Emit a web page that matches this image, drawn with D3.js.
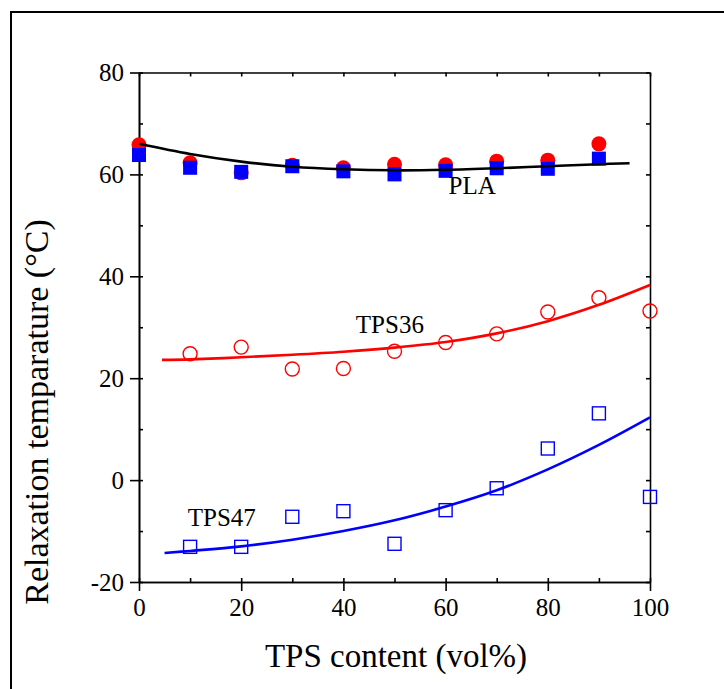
<!DOCTYPE html>
<html>
<head>
<meta charset="utf-8">
<title>relaxation temperature</title>
<script src="https://cdn.jsdelivr.net/npm/d3@7"></script>
<style>
  body { margin: 0; background: #fff; }
  text { font-family: "Liberation Serif", "Times New Roman", serif; fill: #000; }
</style>
</head>
<body>
<svg width="724" height="689" id="mainsvg"></svg>
<script>
// data
const plaX = [0, 10, 20, 30, 40, 50, 60, 70, 80, 90];
const plaCircle = [65.8, 62.3, 60.3, 61.8, 61.3, 62.0, 61.9, 62.6, 62.8, 66.0];
const plaSquare = [63.8, 61.3, 60.5, 61.6, 60.6, 60.0, 60.7, 61.2, 61.1, 63.1];
const plaFitX = [0, 10, 20, 30, 40, 50, 60, 70, 80, 90, 96];
const plaFitY = [66.0, 64.0, 62.5, 61.5, 61.0, 60.8, 60.9, 61.2, 61.6, 62.0, 62.2];

const tpsX = [10, 20, 30, 40, 50, 60, 70, 80, 90, 100];
const tps36 = [24.8, 26.1, 21.8, 21.9, 25.3, 27.0, 28.7, 33.0, 35.8, 33.2];
const tps36FitX = [4.5, 10, 20, 30, 40, 50, 60, 70, 80, 90, 100];
const tps36FitY = [23.6, 23.7, 24.1, 24.6, 25.2, 26.0, 27.1, 28.8, 31.2, 34.4, 38.3];

const tps47 = [-13.1, -13.1, -7.2, -6.1, -12.5, -5.9, -1.6, 6.2, 13.1, -3.3];
const tps47FitX = [5, 10, 20, 30, 40, 50, 60, 70, 80, 90, 100];
const tps47FitY = [-14.3, -13.9, -13.0, -11.7, -10.0, -7.9, -5.2, -2.0, 2.1, 6.9, 12.3];

const xTicks = [0, 20, 40, 60, 80, 100];
const yTicks = [-20, 0, 20, 40, 60, 80];

// label text, x, y (baseline) in data units
const labelText = ['PLA', 'TPS36', 'TPS47'];
const labelX = [65.2, 49.1, 16.2];
const labelY = [56.2, 28.9, -9.0];

const svg = d3.select('svg');
// outer frame (runs off the right and bottom of the picture)
svg.append('rect').attr('x', 11).attr('y', 12).attr('width', 900).attr('height', 900)
  .attr('fill', 'none').attr('stroke', '#000').attr('stroke-width', 2);

const m = {left: 139, right: 650, top: 72.5, bottom: 582};
const xScale = d3.scaleLinear().domain([0, 100]).range([m.left, m.right]);
const yScale = d3.scaleLinear().domain([-20, 80]).range([m.bottom, m.top]);

const g = svg.append('g');

// minor / inner ticks
const minor = d3.range(0, 101, 10);
const minorY = d3.range(-20, 81, 10);
g.append('g').attr('transform', `translate(0,${m.bottom})`)
  .call(d3.axisBottom(xScale).tickValues(minor).tickSize(-4).tickSizeOuter(0).tickFormat(''));
g.append('g').attr('transform', `translate(${m.left},0)`)
  .call(d3.axisLeft(yScale).tickValues(minorY).tickSize(-4).tickSizeOuter(0).tickFormat(''));
g.append('g').attr('transform', `translate(0,${m.top})`)
  .call(d3.axisTop(xScale).tickValues(minor).tickSize(-4).tickSizeOuter(0).tickFormat(''));
g.append('g').attr('transform', `translate(${m.right},0)`)
  .call(d3.axisRight(yScale).tickValues(minorY).tickSize(-4).tickSizeOuter(0).tickFormat(''));

// major axes
const xAxis = g.append('g').attr('transform', `translate(0,${m.bottom})`)
  .call(d3.axisBottom(xScale).tickValues(xTicks).tickSize(9).tickSizeOuter(0).tickPadding(7)
    .tickFormat(d => String(d)));
const yAxis = g.append('g').attr('transform', `translate(${m.left},0)`)
  .call(d3.axisLeft(yScale).tickValues(yTicks).tickSize(9).tickSizeOuter(0).tickPadding(6)
    .tickFormat(d => String(d)));

g.selectAll('.domain').attr('stroke', '#000').attr('stroke-width', 1.6);
g.selectAll('.tick line').attr('stroke', '#000').attr('stroke-width', 1.6);
xAxis.selectAll('text').style('font-size', '25px').style('font-family', '"Liberation Serif", serif');
yAxis.selectAll('text').style('font-size', '25px').style('font-family', '"Liberation Serif", serif');

// fit curves
const line = d3.line().x(d => xScale(d[0])).y(d => yScale(d[1])).curve(d3.curveCatmullRom);
function fit(xs, ys, color) {
  g.append('path').datum(d3.zip(xs, ys)).attr('d', line)
    .attr('fill', 'none').attr('stroke', color).attr('stroke-width', 2.6);
}

// markers
const plot = g.append('g');
plot.selectAll('.pc').data(d3.zip(plaX, plaCircle)).join('circle')
  .attr('cx', d => xScale(d[0])).attr('cy', d => yScale(d[1])).attr('r', 7.5).attr('fill', '#ff0000');
plot.selectAll('.ps').data(d3.zip(plaX, plaSquare)).join('rect')
  .attr('x', d => xScale(d[0]) - 7).attr('y', d => yScale(d[1]) - 7)
  .attr('width', 14).attr('height', 14).attr('fill', '#0000ff');
fit(plaFitX, plaFitY, '#000');

fit(tps36FitX, tps36FitY, '#ff0000');
plot.selectAll('.oc').data(d3.zip(tpsX, tps36)).join('circle')
  .attr('cx', d => xScale(d[0])).attr('cy', d => yScale(d[1])).attr('r', 7)
  .attr('fill', 'none').attr('stroke', '#ff0000').attr('stroke-width', 1.4);

fit(tps47FitX, tps47FitY, '#0000ff');
plot.selectAll('.os').data(d3.zip(tpsX, tps47)).join('rect')
  .attr('x', d => xScale(d[0]) - 6.5).attr('y', d => yScale(d[1]) - 6.5)
  .attr('width', 13).attr('height', 13)
  .attr('fill', 'none').attr('stroke', '#0000ff').attr('stroke-width', 1.4);

// series labels
g.selectAll('.lab').data(d3.zip(labelText, labelX, labelY)).join('text')
  .attr('x', d => xScale(d[1])).attr('y', d => yScale(d[2]))
  .attr('text-anchor', 'middle').style('font-size', '25px').text(d => d[0]);

// axis titles
svg.append('text').attr('x', 396).attr('y', 667).attr('text-anchor', 'middle')
  .style('font-size', '33px').text('TPS content (vol%)');
svg.append('text').attr('transform', 'translate(48,412) rotate(-90)')
  .attr('text-anchor', 'middle').style('font-size', '34px').text('Relaxation temparature (°C)');
</script>
</body>
</html>
